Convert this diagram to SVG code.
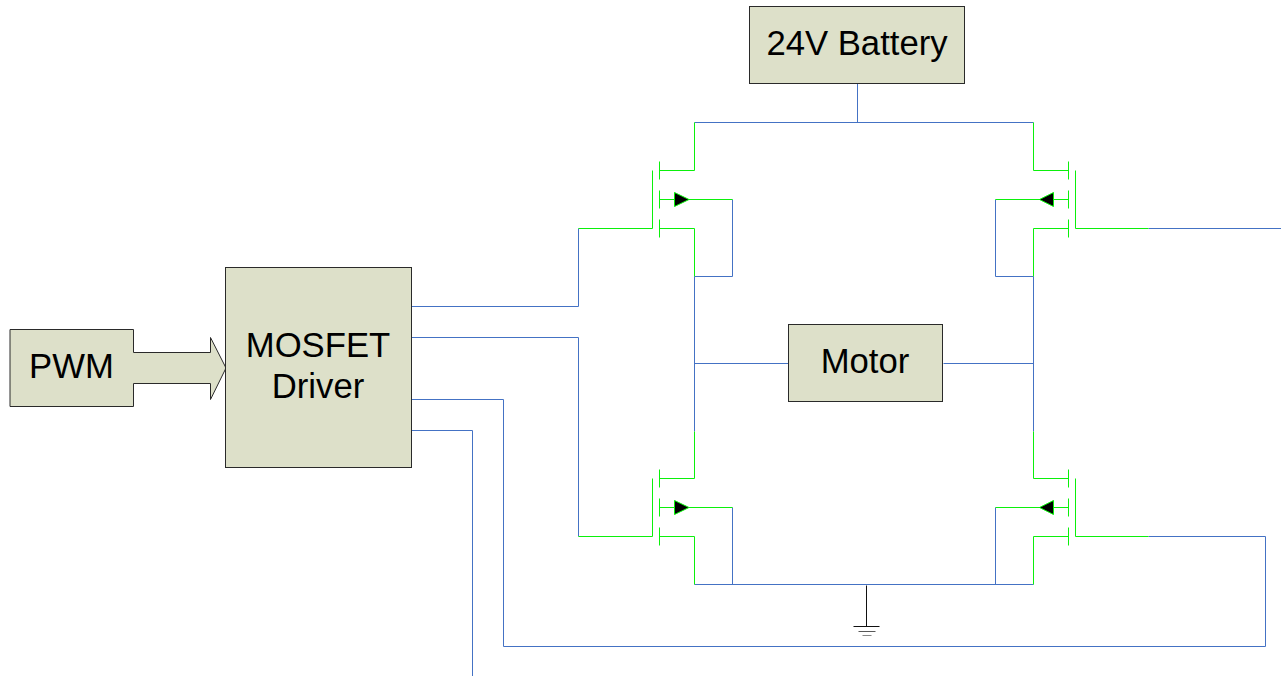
<svg xmlns="http://www.w3.org/2000/svg" width="1281" height="676" viewBox="0 0 1281 676">
<style>
.box{fill:#dde0c9;stroke:#2a2a2a;stroke-width:1}
.t{font-family:"Liberation Sans",Arial,sans-serif;font-size:34.7px;fill:#000;text-anchor:middle}
.b{fill:none;stroke:#4472c4;stroke-width:1}
.g{fill:none;stroke:#0bf00b;stroke-width:1}
.k{fill:none;stroke:#111;stroke-width:1}
.a{fill:#000;stroke:#0bf00b;stroke-width:1}
</style>
<rect width="1281" height="676" fill="#fff"/>
<g id="connectors" transform="translate(.5 .5)">
<path class="b" d="M857 83V122M694 122H1033"/>
<path class="b" d="M694 276H732V199M694 276V431M694 363H788M943 363H1033M1033 276V431M1033 276H995V199"/>
<path class="b" d="M694 584H1033M732 584V507M995 584V507"/>
<path class="b" d="M411 306H578V228M411 337H578V536"/>
<path class="b" d="M411 399H503V646H1265V536H1148"/>
<path class="b" d="M411 430H472V676"/>
<path class="b" d="M1148 228H1281"/>
<path class="k" d="M866 585V626M853 626H879"/>
<path class="k" d="M858 631H875" stroke-opacity=".7"/>
<path class="k" d="M862 635H871" stroke-opacity=".5"/>
</g>
<g id="mosfet-top-left" transform="translate(.5 .5)">
<path class="g" d="M578 228H652V170M659 161V179M659 190V208M659 219V237M659 170H694V122M659 199H732M659 228H694V276"/>
<path class="a" d="M674 192L688.500 199L674 206Z"/>
</g>
<g id="mosfet-bottom-left" transform="translate(.5 .5)">
<path class="g" d="M578 536H652V478M659 469V487M659 498V516M659 527V545M659 478H694V431M659 507H732M659 536H694V584"/>
<path class="a" d="M674 500L688.500 507L674 514Z"/>
</g>
<g id="mosfet-top-right" transform="translate(.5 .5)">
<path class="g" d="M1148 228H1075V170M1068 161V179M1068 190V208M1068 219V237M1068 170H1033V122M1068 199H995M1068 228H1033V276"/>
<path class="a" d="M1053 192L1039 199L1053 206Z"/>
</g>
<g id="mosfet-bottom-right" transform="translate(.5 .5)">
<path class="g" d="M1148 536H1075V478M1068 469V487M1068 498V516M1068 527V545M1068 478H1033V431M1068 507H995M1068 536H1033V584"/>
<path class="a" d="M1053 500L1039 507L1053 514Z"/>
</g>
<g id="battery"><rect class="box" x="749.500" y="6.500" width="215" height="77"/><text class="t" x="857" y="55">24V Battery</text></g>
<g id="motor"><rect class="box" x="788.500" y="324.500" width="154" height="77"/><text class="t" x="865" y="373">Motor</text></g>
<g id="pwm-arrow"><path class="box" d="M10 329.500H133.500V352.500H210.500V337.500L226 368L210.500 399.500V383.500H133.500V406.500H10Z"/></g>
<g id="pwm"><text class="t" x="71.500" y="378">PWM</text></g>
<g id="driver"><rect class="box" x="225.500" y="267.500" width="186" height="200"/><text class="t" x="318" y="357">MOSFET</text><text class="t" x="318" y="398">Driver</text></g>
</svg>
